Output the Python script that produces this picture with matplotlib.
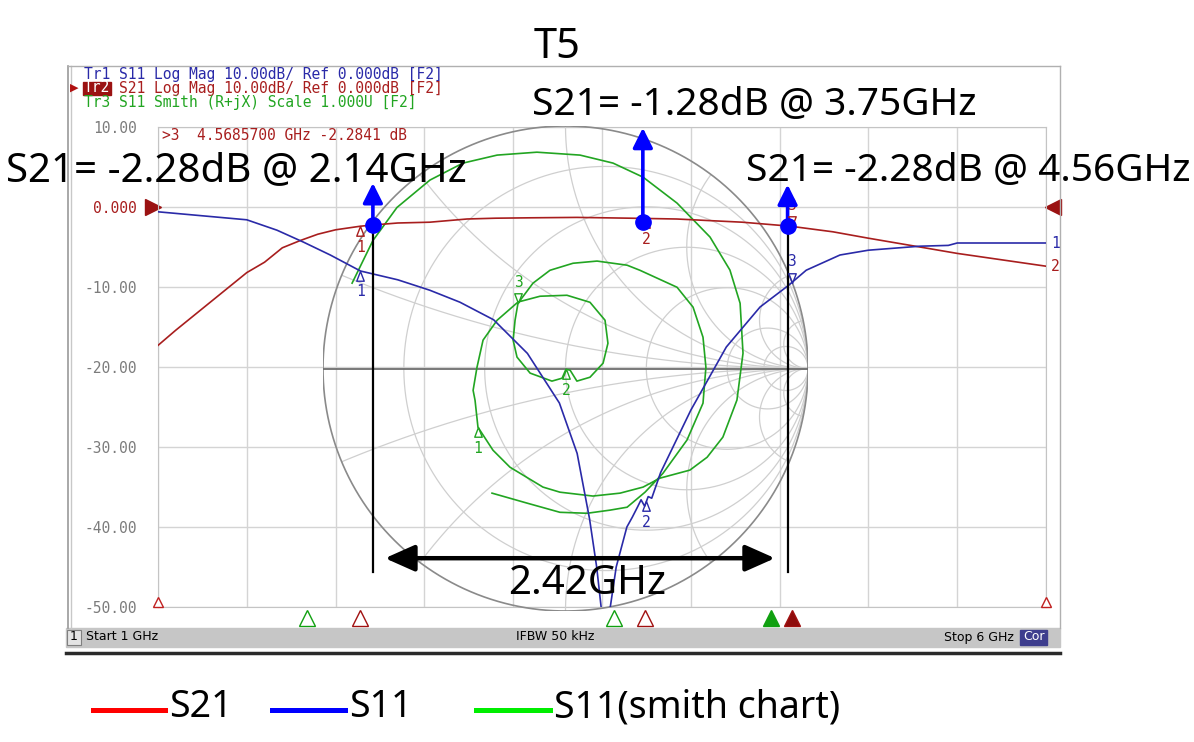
import numpy as np
import matplotlib
matplotlib.use('Agg')
import matplotlib.pyplot as plt
from matplotlib.lines import Line2D
from matplotlib.patches import Rectangle
from matplotlib.path import Path

# Tr2: S21 log mag (GHz, dB)
s21_f = [1.0, 1.1, 1.2, 1.3, 1.4, 1.5, 1.6, 1.7, 1.8, 1.9, 2.0, 2.14, 2.21, 2.35,
         2.53, 2.74, 2.9, 3.1, 3.36, 3.66, 3.92, 4.29, 4.56, 4.8, 5.0, 5.29, 5.5,
         5.75, 6.0]
s21_db = [-17.3, -15.4, -13.6, -11.8, -10.0, -8.2, -6.9, -5.1, -4.2, -3.4, -2.85,
          -2.4, -2.25, -2.0, -1.9, -1.5, -1.4, -1.35, -1.3, -1.4, -1.5, -1.9, -2.4,
          -3.1, -3.9, -5.0, -5.8, -6.6, -7.4]

# Tr1: S11 log mag (GHz, dB)
s11_f = [1.0, 1.25, 1.5, 1.67, 1.82, 1.97, 2.14, 2.35, 2.53, 2.7, 2.89, 3.08, 3.26,
         3.36, 3.43, 3.47, 3.5, 3.54, 3.58, 3.61, 3.64, 3.67, 3.7, 3.72, 3.74, 3.76,
         3.78, 3.83, 4.0, 4.2, 4.39, 4.55, 4.65, 4.84, 5.0, 5.29, 5.45, 5.5, 6.0]
s11_db = [-0.6, -1.1, -1.6, -2.9, -4.4, -6.0, -8.0, -9.1, -10.4, -11.9, -14.1, -18.3,
          -24.5, -30.8, -39.0, -45.0, -51.0, -51.0, -45.0, -42.5, -40.0, -38.8, -37.5,
          -36.6, -37.4, -36.2, -36.4, -33.2, -25.4, -17.5, -12.5, -9.8, -7.9, -6.0,
          -5.4, -4.9, -4.8, -4.5, -4.5]

# Tr3: S11 on the Smith chart, reflection coefficient (re, im), 1 GHz -> 6 GHz
smith_re = [-0.880, -0.794, -0.695, -0.559, -0.423, -0.282, -0.118, 0.060, 0.196,
            0.320, 0.460, 0.596, 0.678, 0.720, 0.732, 0.707, 0.649, 0.584, 0.513,
            0.390, 0.320, 0.225, 0.113, -0.023, -0.093, -0.229, -0.299, -0.361,
            -0.373, -0.381, -0.365, -0.340, -0.282, -0.196, -0.105, 0.006, 0.101,
            0.163, 0.175, 0.155, 0.101, 0.047, 0.019, 0.002, -0.014, -0.056, -0.146,
            -0.200, -0.216, -0.208, -0.196, -0.134, -0.064, 0.031, 0.130, 0.254,
            0.307, 0.460, 0.526, 0.567, 0.579, 0.567, 0.501, 0.402, 0.328, 0.254,
            0.184, 0.089, -0.023, -0.159, -0.303]
smith_im = [0.352, 0.528, 0.664, 0.777, 0.847, 0.880, 0.892, 0.880, 0.847, 0.789,
            0.682, 0.542, 0.406, 0.269, 0.063, -0.130, -0.283, -0.366, -0.419,
            -0.452, -0.489, -0.514, -0.526, -0.510, -0.489, -0.407, -0.337, -0.242,
            -0.131, -0.090, 0.005, 0.117, 0.199, 0.274, 0.298, 0.302, 0.273, 0.199,
            0.104, 0.022, -0.036, -0.052, -0.007, -0.003, -0.040, -0.052, -0.019,
            0.047, 0.117, 0.199, 0.269, 0.352, 0.405, 0.434, 0.443, 0.426, 0.405,
            0.335, 0.253, 0.129, 0.005, -0.143, -0.295, -0.432, -0.510, -0.572,
            -0.584, -0.597, -0.593, -0.555, -0.514]

# markers
marker_f = [2.14, 3.75, 4.5686]
smith_marker_idx = [27, 43, 50]
stim_green_f = [1.84, 3.57, 4.45]
stim_red_f = [2.14, 3.74, 4.57]

# hand drawn annotation
dot_f = [2.21, 3.73, 4.545]
dot_db = [-2.25, -1.9, -2.4]
arrow_tip_db = [3.0, 9.9, 2.8]
notes = ['S21= -2.28dB @ 2.14GHz', 'S21= -1.28dB @ 3.75GHz', 'S21= -2.28dB @ 4.56GHz']
span_f = [2.278, 4.474]
span_label = '2.42GHz'

x_grid = [1.0, 1.5, 2.0, 2.5, 3.0, 3.5, 4.0, 4.5, 5.0, 5.5, 6.0]
y_ticks = [10, 0, -10, -20, -30, -40, -50]
y_labels = ['10.00', '0.000', '-10.00', '-20.00', '-30.00', '-40.00', '-50.00']
smith_r = [0.2, 0.5, 1, 2, 5, 10]
smith_x = [0.2, 0.5, 1, 2, 5, 10]

header = ['Tr1 S11 Log Mag 10.00dB/ Ref 0.000dB [F2]',
          'Tr2 S21 Log Mag 10.00dB/ Ref 0.000dB [F2]',
          'Tr3 S11 Smith (R+jX) Scale 1.000U [F2]']
legend_labels = ['S21', 'S11', 'S11(smith chart)']
legend_colors = ['#ff0000', '#0000ff', '#00ee00']

RED = '#a81e1e'
BLUE = '#2a2aa8'
GREEN = '#22a522'
MONO = 'DejaVu Sans Mono'
CHAR_W = 0.602 * 10.5 * 100 / 72  # mono glyph advance in pixels
W, H = 1194, 742


def box(l, t, r, b):
    return [l / W, 1 - b / H, (r - l) / W, (b - t) / H]


def fx(px):
    return px / W


def fy(py):
    return 1 - py / H


UP = Path([(0, 0), (-0.5, -1.3), (0.5, -1.3), (0, 0)],
          [Path.MOVETO, Path.LINETO, Path.LINETO, Path.CLOSEPOLY])
DOWN = Path([(0, 0), (-0.5, 1.3), (0.5, 1.3), (0, 0)],
            [Path.MOVETO, Path.LINETO, Path.LINETO, Path.CLOSEPOLY])


def trace_marker(axis, x, y, num, color, down=False):
    axis.plot([x], [y], marker=DOWN if down else UP, ms=14, mfc='none', mec=color,
              mew=1.0, clip_on=False, zorder=5)
    axis.annotate(str(num), (x, y), xytext=(0, 15 if down else -15),
                  textcoords='offset points', ha='center', va='center',
                  color=color, family=MONO, fontsize=10.5)


fig = plt.figure(figsize=(W / 100, H / 100), dpi=100)
fig.patch.set_facecolor('white')

# analyser screen frame and status bar
fig.add_artist(Line2D([fx(68), fx(68)], [fy(66), fy(628)], color='#9a9a9a', lw=1.2))
fig.add_artist(Line2D([fx(71), fx(71)], [fy(66), fy(628)], color='#c8c8c8', lw=1.0))
fig.add_artist(Line2D([fx(68), fx(1060)], [fy(66), fy(66)], color='#b0b0b0', lw=1.0))
fig.add_artist(Line2D([fx(1060), fx(1060)], [fy(66), fy(628)], color='#b0b0b0', lw=1.0))
fig.add_artist(Rectangle((fx(66), fy(647)), fx(994), 19 / H, color='#c6c6c6'))
fig.add_artist(Rectangle((fx(67), fy(645)), fx(14), 15 / H, facecolor='#e4e4e4',
                         edgecolor='#808080', lw=0.8))
fig.add_artist(Rectangle((fx(1020), fy(645)), fx(27), 15 / H, color='#3e3e8e'))
fig.add_artist(Line2D([fx(66), fx(1060)], [fy(653), fy(653)], color='#2a2a2a', lw=2.5))
bar_y = fy(637)
fig.text(fx(74), bar_y, '1', fontsize=9, va='center', ha='center')
fig.text(fx(86), bar_y, 'Start 1 GHz', fontsize=9, va='center')
fig.text(fx(555), bar_y, 'IFBW 50 kHz', fontsize=9, va='center', ha='center')
fig.text(fx(1014), bar_y, 'Stop 6 GHz', fontsize=9, va='center', ha='right')
fig.text(fx(1033.5), bar_y, 'Cor', fontsize=9, va='center', ha='center', color='white')

# trace header; the active trace name sits in a filled box
fig.add_artist(Rectangle((fx(83), fy(95)), fx(28), 13 / H, color='#9b1212'))
for i, (line, c) in enumerate(zip(header, [BLUE, RED, GREEN])):
    if i == 1:
        fig.text(fx(84 + 4 * CHAR_W), fy(88), line[4:], family=MONO, fontsize=10.5,
                 color=c, va='center')
        fig.text(fx(84), fy(88), line[:3], family=MONO, fontsize=10.5,
                 color='white', va='center')
    else:
        fig.text(fx(84), fy(74 + 14 * i), line, family=MONO, fontsize=10.5, color=c,
                 va='center')
fig.text(fx(70), fy(88), '\u25b6', fontsize=8, color='#b01010', va='center')

# log mag grid
ax = fig.add_axes(box(158, 127, 1046, 607))
ax.set_xlim(1, 6)
ax.set_ylim(-50, 10)
ax.set_xticks(x_grid)
ax.set_xticklabels([])
ax.set_yticks(y_ticks)
ax.set_yticklabels(y_labels, family=MONO, fontsize=10.5, color='#7c7c7c')
ax.get_yticklabels()[1].set_color(RED)
ax.tick_params(length=0, pad=15)
ax.grid(True, color='#d4d4d4', lw=1.0)
for s in ax.spines.values():
    s.set_color('#c4c4c4')
ax.plot([-0.006], [0], marker='>', ms=11, color='#9b1212',
        transform=ax.get_yaxis_transform(), clip_on=False)
ax.plot([1.008], [0], marker='<', ms=11, color='#9b1212',
        transform=ax.get_yaxis_transform(), clip_on=False)
ax.text(1.02, 8.9, '>3  4.5685700 GHz -2.2841 dB', family=MONO, fontsize=10.5,
        color=RED, va='center')

# smith chart
sax = fig.add_axes(box(323, 126, 808, 611))
sax.set_xlim(-1, 1)
sax.set_ylim(-1, 1)
sax.axis('off')
t = np.linspace(0, 2 * np.pi, 3000)
for r in smith_r:
    c, rad = r / (1 + r), 1 / (1 + r)
    sax.plot(c + rad * np.cos(t), rad * np.sin(t), color='#cfcfcf', lw=0.9)
for x in smith_x:
    for sgn in (1, -1):
        gx = 1 + np.cos(t) / x
        gy = sgn / x + np.sin(t) / x
        out = gx ** 2 + gy ** 2 > 1.0001
        gx[out] = np.nan
        gy[out] = np.nan
        sax.plot(gx, gy, color='#cfcfcf', lw=0.9)
sax.plot(np.cos(t), np.sin(t), color='#8a8a8a', lw=1.2)
sax.plot([-1, 1], [0, 0], color='#6e6e6e', lw=1.3)
sax.plot(smith_re, smith_im, color=GREEN, lw=1.2)
for i, idx in enumerate(smith_marker_idx):
    trace_marker(sax, smith_re[idx], smith_im[idx], i + 1, GREEN, down=(i == 2))

# log mag traces on top
tax = fig.add_axes(box(158, 127, 1046, 607), facecolor='none')
tax.set_xlim(1, 6)
tax.set_ylim(-50, 10)
tax.axis('off')
tax.plot(s21_f, s21_db, color=RED, lw=1.2)
tax.plot(s11_f, s11_db, color=BLUE, lw=1.2)
for i, f in enumerate(marker_f):
    trace_marker(tax, f, np.interp(f, s21_f, s21_db), i + 1, RED, down=(i == 2))
    trace_marker(tax, f, np.interp(f, s11_f, s11_db), i + 1, BLUE, down=(i == 2))
tax.text(6.03, s11_db[-1], '1', color=BLUE, family=MONO, fontsize=10.5, va='center')
tax.text(6.03, s21_db[-1], '2', color=RED, family=MONO, fontsize=10.5, va='center')

for i, (fg, fr) in enumerate(zip(stim_green_f, stim_red_f)):
    active = i == 2
    tax.plot([fg], [-51.4], marker='^', ms=11, mec='#10a010',
             mfc='#10a010' if active else 'white', clip_on=False)
    tax.plot([fr], [-51.4], marker='^', ms=11, mec='#a01010',
             mfc='#8e0c0c' if active else 'white', clip_on=False)
tax.plot([1.0, 6.0], [-49.4, -49.4], ls='none', marker='^', ms=7, mec='#c02020',
         mfc='white', clip_on=False)

# annotation: markers, arrows, bandwidth span
for i in (0, 2):
    tax.plot([dot_f[i], dot_f[i]], [dot_db[i], -45.6], color='black', lw=1.6,
             clip_on=False)
for f, y, tip in zip(dot_f, dot_db, arrow_tip_db):
    tax.annotate('', xy=(f, tip), xytext=(f, y),
                 arrowprops=dict(arrowstyle='-|>,head_length=0.6,head_width=0.3',
                                 color='#0000ff', lw=2.6, shrinkA=0, shrinkB=0,
                                 mutation_scale=20), annotation_clip=False)
tax.plot(dot_f, dot_db, 'o', color='#0000ff', ms=11, clip_on=False, zorder=6)
tax.annotate('', xy=(span_f[0], -43.9), xytext=(span_f[1], -43.9),
             arrowprops=dict(arrowstyle='<|-|>,head_length=0.9,head_width=0.4',
                             color='black', lw=3.2, shrinkA=0, shrinkB=0,
                             mutation_scale=20), annotation_clip=False)

big = dict(family='Noto Sans', ha='center', va='center')
fig.text(fx(557), fy(47), 'T5', fontsize=30, **big)
fig.text(fx(236), fy(171), notes[0], fontsize=29, **big)
fig.text(fx(754), fy(105), notes[1], fontsize=28, **big)
fig.text(fx(968), fy(171), notes[2], fontsize=28, **big)
fig.text(fx(587), fy(584), span_label, fontsize=29, **big)

# legend below the screen
legend_x = [(93, 165), (272, 345), (476, 550)]
for (x0, x1), lab, c in zip(legend_x, legend_labels, legend_colors):
    fig.add_artist(Line2D([fx(x0), fx(x1)], [fy(710), fy(710)], color=c, lw=3.6))
    fig.text(fx(x1 + 4), fy(707), lab, family='Noto Sans', fontsize=27,
             va='center', ha='left')

fig.savefig('out.png', dpi=100, facecolor='white')
